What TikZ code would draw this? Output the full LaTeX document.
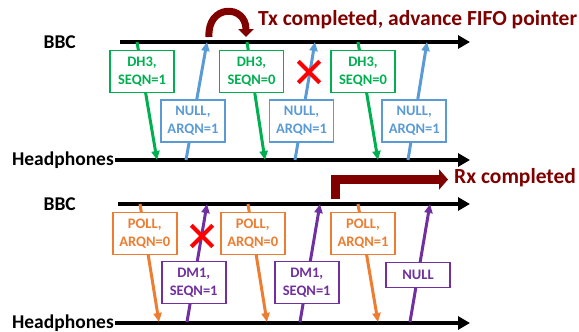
\documentclass[tikz,border=0pt]{standalone}
\usepackage{fontspec}
\setmainfont{Carlito}
\usepackage{xcolor}
\usetikzlibrary{arrows.meta}
\definecolor{msggreen}{RGB}{0,176,80}
\definecolor{msgblue}{RGB}{91,155,213}
\definecolor{msgorange}{RGB}{237,125,49}
\definecolor{msgpurple}{RGB}{112,48,160}
\definecolor{darkred}{RGB}{128,0,0}
\tikzset{
  axis/.style={line width=3.5pt,-{Triangle[length=12pt,width=13pt]}},
  pkt/.style={line width=3pt},
  dnpkt/.style={pkt,-{Triangle[length=9pt,width=8pt]},dncol},
  uppkt/.style={pkt,{Triangle[length=9pt,width=8pt]}-,upcol},
  pktbox/.style={draw,fill=white,line width=1.6pt,font=\fontsize{14.5}{18}\selectfont\bfseries,
    align=center,minimum width=64pt,minimum height=42pt,inner sep=1pt},
  lbl/.style={font=\fontsize{19.5}{21}\selectfont\bfseries,anchor=east,inner sep=1pt},
  note/.style={font=\fontsize{21.5}{23}\selectfont\bfseries,text=darkred,anchor=west,inner sep=0pt},
  lost/.style={red,line width=4pt}
}
\newcommand{\pktmsg}[7][]{%
  \coordinate (#3-b) at (#4,0);
  \coordinate (#3-h) at (#5,118);
  \draw[#2] (#3-b) -- node[pktbox,pos=#6,#1] (#3) {#7} (#3-h);}
\newcommand{\lostmark}[3]{%
  \node[inner sep=0pt,minimum size=21pt] (#1) at (#2,#3) {};
  \draw[lost] (#1.north west) -- (#1.south east) (#1.north east) -- (#1.south west);}

\begin{document}
\begin{tikzpicture}[x=1pt,y=-1pt]
\useasboundingbox (0,0) rectangle (579,332);

% transmit side: DH3 packets and acks
\begin{scope}[shift={(0,42)},dncol/.style={msggreen},upcol/.style={msgblue}]
  \node[lbl] (bbc) at (77,0) {BBC};
  \node[lbl] (hp) at (115,118) {Headphones};
  \coordinate (bbc-l) at (120,0); \coordinate (bbc-r) at (470,0);
  \coordinate (hp-r) at (470,118);
  \draw[axis] (bbc-l) -- (bbc-r);
  \draw[axis] (hp.east) -- (hp-r);
  \pktmsg{dnpkt}{dh1}{137}{157}{0.25}{DH3,\\SEQN=1}
  \pktmsg{uppkt}{ack1}{207}{186}{0.67}{NULL,\\ARQN=1}
  \pktmsg{dnpkt}{dh2}{247}{265}{0.25}{DH3,\\SEQN=0}
  \pktmsg{uppkt}{ack2}{315}{295}{0.67}{NULL,\\ARQN=1}
  \pktmsg{dnpkt}{dh3}{358}{378}{0.25}{DH3,\\SEQN=0}
  \pktmsg{uppkt}{ack3}{427}{408}{0.67}{NULL,\\ARQN=1}
  \lostmark{x1}{309}{30}
\end{scope}

% receive side: polls and DM1 replies
\begin{scope}[shift={(0,204)},dncol/.style={msgorange},upcol/.style={msgpurple}]
  \node[lbl] (bbc2) at (77,0) {BBC};
  \node[lbl] (hp2) at (115,119) {Headphones};
  \coordinate (bbc2-l) at (118,0); \coordinate (bbc2-r) at (470,0);
  \coordinate (hp2-r) at (470,119);
  \draw[axis] (bbc2-l) -- (bbc2-r);
  \draw[axis] (hp2.east) -- (hp2-r);
  \pktmsg{dnpkt}{poll1}{140}{159}{0.25}{POLL,\\ARQN=0}
  \pktmsg{uppkt}{dm1}{207}{187}{0.665}{DM1,\\SEQN=1}
  \pktmsg{dnpkt}{poll2}{248}{267}{0.25}{POLL,\\ARQN=0}
  \pktmsg{uppkt}{dm2}{320}{300}{0.665}{DM1,\\SEQN=1}
  \pktmsg{dnpkt}{poll3}{358}{378}{0.25}{POLL,\\ARQN=1}
  \pktmsg[minimum height=25pt]{uppkt}{dm3}{430}{410}{0.6}{NULL}
  \lostmark{x2}{202}{32}
\end{scope}

\coordinate (txa) at (209,37);
\coordinate (txb) at (246,37);
\draw[darkred,line width=7pt,-{Triangle[length=8pt,width=15pt]}]
  (txa) .. controls (207,4) and (246,4) .. (txb);
\node[note] (txdone) at (258,20) {Tx completed, advance FIFO pointer};

\coordinate (rxa) at (335.5,199);
\coordinate (rxb) at (448,179.5);
\draw[darkred,line width=9pt,-{Triangle[length=9pt,width=20pt]}] (rxa) |- (rxb);
\node[note] (rxdone) at (454,178) {Rx completed};
\end{tikzpicture}
\end{document}
